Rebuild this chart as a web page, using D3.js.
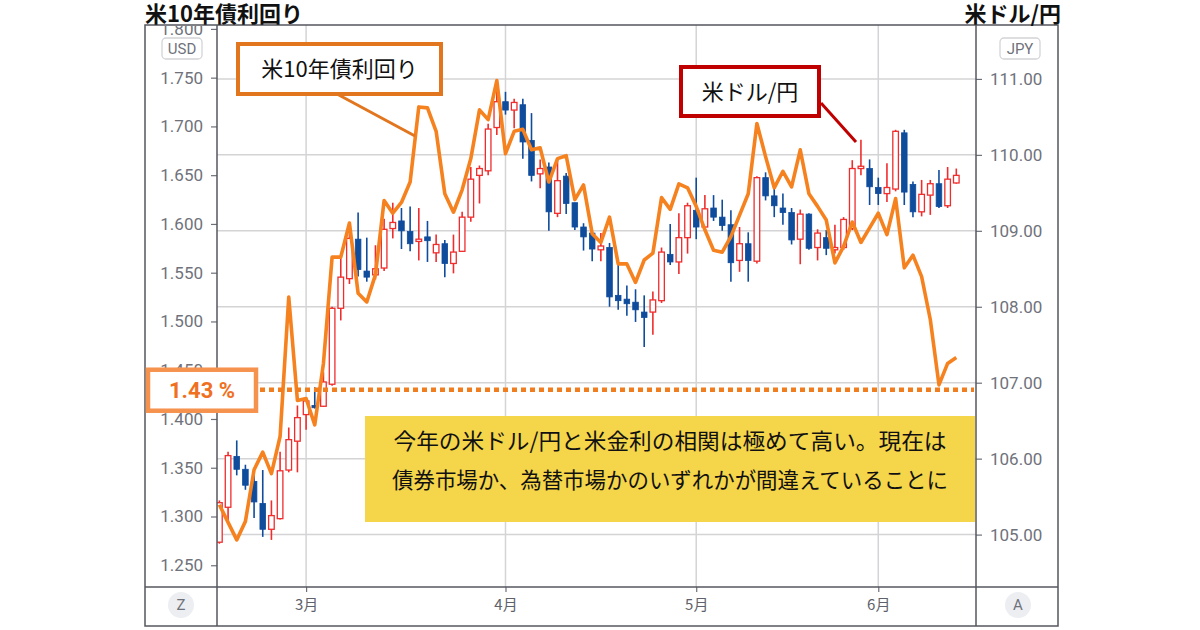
<!DOCTYPE html>
<html>
<head>
<meta charset="utf-8">
<script src="https://cdn.jsdelivr.net/npm/d3@7"></script>
<style>
body{margin:0;background:#fff;}
svg{display:block;}
</style>
</head>
<body>
<svg id="chart" width="1200" height="630"></svg>
<script>
// trading days (2021), one candle each
const dates = [
    "02-15","02-16","02-17","02-18","02-19","02-22","02-23","02-24","02-25","02-26",
    "03-01","03-02","03-03","03-04","03-05","03-08","03-09","03-10","03-11","03-12","03-15","03-16",
    "03-17","03-18","03-19","03-22","03-23","03-24","03-25","03-26","03-29","03-30","03-31",
    "04-01","04-02","04-05","04-06","04-07","04-08","04-09","04-12","04-13","04-14","04-15",
    "04-16","04-19","04-20","04-21","04-22","04-23","04-26","04-27","04-28","04-29","04-30",
    "05-03","05-04","05-05","05-06","05-07","05-10","05-11","05-12","05-13","05-14","05-17",
    "05-18","05-19","05-20","05-21","05-24","05-25","05-26","05-27","05-28","05-31",
    "06-01","06-02","06-03","06-04","06-07","06-08","06-09","06-10","06-11","06-14"
];
// USD/JPY daily candles
const opens = [104.90,105.36,106.03,105.86,105.70,105.41,105.07,105.21,105.85,106.23,
    106.58,106.70,106.69,106.98,107.98,108.37,108.89,108.47,108.42,108.51,109.03,109.13,108.99,108.86,108.92,108.71,108.83,108.57,108.73,109.18,109.73,109.79,110.36,
    110.70,110.59,110.66,110.19,109.75,109.84,109.23,109.72,109.37,109.05,108.97,108.75,108.78,108.15,108.10,108.06,107.93,107.93,108.08,108.69,108.59,108.91,
    109.27,109.05,109.30,109.18,109.08,108.61,108.83,108.60,109.70,109.46,109.30,109.24,108.89,109.22,108.78,108.91,108.75,108.78,109.03,109.82,109.82,
    109.57,109.49,109.55,110.29,109.61,109.25,109.47,109.62,109.33,109.63];
const highs = [105.45,106.09,106.24,105.92,105.78,105.85,105.45,106.09,106.41,106.70,
    106.81,106.94,107.14,108.00,108.66,108.97,109.24,108.91,108.81,109.16,109.37,109.30,109.32,109.30,109.13,108.95,108.88,108.95,109.25,109.84,109.86,110.41,110.97,
    110.83,110.74,110.74,110.55,109.94,109.90,109.95,109.76,109.37,109.10,108.99,108.97,108.84,108.55,108.28,108.23,108.15,108.20,108.78,109.09,109.23,109.37,
    109.70,109.47,109.47,109.41,109.27,109.05,108.98,109.72,109.77,109.58,109.49,109.30,109.28,109.23,109.02,109.01,109.08,109.18,109.93,110.20,109.94,
    109.70,109.89,110.33,110.33,109.65,109.67,109.67,109.80,109.84,109.82];
const lows = [104.88,105.17,105.78,105.59,105.22,104.97,104.93,105.20,105.82,105.82,
    106.38,106.66,106.68,106.96,107.82,108.30,108.40,108.33,108.36,108.47,108.90,108.76,108.73,108.61,108.59,108.59,108.39,108.44,108.72,109.12,109.36,109.73,110.26,
    110.53,110.35,109.95,109.65,109.56,109.00,109.18,109.22,109.01,108.74,108.60,108.60,108.00,107.96,107.88,107.80,107.47,107.63,108.05,108.55,108.43,108.70,
    108.89,109.00,109.13,109.00,108.33,108.46,108.33,108.57,109.40,109.18,109.08,108.82,108.56,108.75,108.61,108.68,108.70,108.75,109.01,109.73,109.34,
    109.34,109.38,109.52,109.34,109.18,109.19,109.21,109.30,109.30,109.62];
const closes = [105.42,106.04,105.86,105.65,105.43,105.07,105.25,105.84,106.25,106.54,
    106.76,106.67,107.01,107.98,108.39,108.90,108.49,108.39,108.50,109.02,109.11,109.00,108.83,108.89,108.87,108.82,108.57,108.72,109.18,109.68,109.82,110.34,110.70,
    110.59,110.69,110.17,109.73,109.82,109.25,109.66,109.36,109.05,108.92,108.76,108.80,108.13,108.08,108.04,107.96,107.86,108.09,108.72,108.59,108.91,109.33,
    109.05,109.29,109.18,109.07,108.58,108.83,108.61,109.70,109.46,109.33,109.24,108.88,109.22,108.77,108.97,108.77,108.78,109.15,109.82,109.85,109.58,
    109.49,109.57,110.31,109.51,109.25,109.48,109.62,109.32,109.68,109.73];
// US 10y yield (%)
const yields = [1.312,1.294,1.276,1.295,1.348,1.366,1.344,1.382,1.525,1.419,
    1.421,1.394,1.457,1.566,1.566,1.601,1.529,1.520,1.548,1.624,1.611,1.622,1.643,1.720,1.719,1.695,1.631,1.612,1.635,1.667,1.717,1.707,1.747,
    1.672,1.695,1.697,1.676,1.678,1.643,1.667,1.670,1.625,1.640,1.590,1.581,1.607,1.559,1.559,1.540,1.563,1.570,1.627,1.615,1.641,1.637,
    1.618,1.594,1.573,1.571,1.587,1.609,1.631,1.703,1.669,1.637,1.654,1.638,1.676,1.631,1.618,1.604,1.560,1.577,1.602,1.581,1.596,
    1.611,1.589,1.626,1.555,1.568,1.546,1.502,1.435,1.457,1.463];
//
const yieldTicks = [1.25,1.30,1.35,1.40,1.45,1.50,1.55,1.60,1.65,1.70,1.75,1.80];
const yenTicks = [105,106,107,108,109,110,111];
const monthDates = ["03-01","04-01","05-03","06-01"];
const monthLabels = ["3月","4月","5月","6月"];
const markYield = 1.43;
//
const frame = {l: 145, t: 25, r: 1058, b: 626};
const plot = {l: 217, t: 25, r: 976, b: 587};
const jp = "'Noto Sans CJK JP', 'Noto Sans', sans-serif";
const axisFont = "Roboto, 'Liberation Sans', sans-serif";
const gray = "#6f727b";
const upCol = "#f02c2c", downCol = "#0f4c9c", lineCol = "#f5821f";
//
const svg = d3.select("#chart");
//
const x = d3.scaleLinear().domain([0, dates.length - 1]).range([219.4, 956.3]);//index -> px
const yL = d3.scaleLinear().domain([1.2277, 1.804]).range([plot.b, plot.t]);//yield
const yR = d3.scaleLinear().domain([104.31, 111.71]).range([plot.b, plot.t]);//USD/JPY
const idx = d => dates.indexOf(d);
//
const defs = svg.append("defs");
defs.append("clipPath").attr("id", "plotClip")
    .append("rect").attr("x", plot.l).attr("y", plot.t).attr("width", plot.r - plot.l).attr("height", plot.b - plot.t);
defs.append("clipPath").attr("id", "leftClip")
    .append("rect").attr("x", frame.l).attr("y", frame.t + 1).attr("width", plot.l - frame.l).attr("height", plot.b - frame.t);
//
// grid
const grid = svg.append("g").attr("stroke", "#d4d4d6").attr("stroke-width", 1.5);
grid.selectAll(".gh").data(yenTicks).join("line")
    .attr("x1", plot.l).attr("x2", plot.r).attr("y1", d => yR(d)).attr("y2", d => yR(d));
grid.selectAll(".gv").data(monthDates).join("line")
    .attr("x1", d => x(idx(d))).attr("x2", d => x(idx(d))).attr("y1", plot.t).attr("y2", plot.b);
//
// axes
const leftAxis = svg.append("g").attr("clip-path", "url(#leftClip)")//clip in page coords, axis moved inside
    .append("g").attr("transform", `translate(${plot.l},0)`)
    .call(d3.axisLeft(yL).tickValues(yieldTicks).tickFormat(d3.format(".3f")).tickSize(6).tickPadding(8));
const rightAxis = svg.append("g").attr("transform", `translate(${plot.r},0)`)
    .call(d3.axisRight(yR).tickValues(yenTicks).tickFormat(d3.format(".2f")).tickSize(6).tickPadding(8));
const bottomAxis = svg.append("g").attr("transform", `translate(0,${plot.b})`)
    .call(d3.axisBottom(x).tickValues(monthDates.map(idx)).tickFormat((d, i) => monthLabels[i]).tickSize(5).tickPadding(7));
[leftAxis, rightAxis, bottomAxis].forEach(a => {
    a.select(".domain").remove();
    a.selectAll(".tick line").attr("stroke", "#6d7079").attr("stroke-width", 1.2);
    a.selectAll(".tick text").attr("fill", gray).style("font-family", axisFont).style("font-size", "17px");
});
bottomAxis.selectAll(".tick text").style("font-family", jp).style("font-size", "15px").attr("fill", "#5f626a");
//
// candles
const candles = svg.append("g").attr("clip-path", "url(#plotClip)");
const bw = 5.6;
dates.forEach((d, i) => {
    const up = closes[i] >= opens[i];
    const col = up ? upCol : downCol;
    const cx = x(i);
    candles.append("line")
        .attr("x1", cx).attr("x2", cx).attr("y1", yR(highs[i])).attr("y2", yR(lows[i]))
        .attr("stroke", col).attr("stroke-width", 1.6);
    const top = yR(Math.max(opens[i], closes[i]));
    const h = Math.max(1.5, yR(Math.min(opens[i], closes[i])) - top);
    candles.append("rect")
        .attr("x", cx - bw / 2).attr("y", top).attr("width", bw).attr("height", h)
        .attr("fill", up ? "#fff" : col).attr("stroke", col).attr("stroke-width", up ? 1.3 : 0.8);
});
//
// yield line
candles.append("path").datum(yields)
    .attr("fill", "none").attr("stroke", lineCol).attr("stroke-width", 3.6).attr("stroke-linejoin", "round")
    .attr("d", d3.line().x((d, i) => x(i)).y(d => yL(d)));
//
// frame
const fr = svg.append("g").attr("stroke", "#55575e").attr("stroke-width", 1.5).attr("fill", "none");
fr.append("rect").attr("x", frame.l).attr("y", frame.t).attr("width", frame.r - frame.l).attr("height", frame.b - frame.t);
fr.append("line").attr("x1", plot.l).attr("x2", plot.l).attr("y1", frame.t).attr("y2", frame.b);
fr.append("line").attr("x1", plot.r).attr("x2", plot.r).attr("y1", frame.t).attr("y2", frame.b);
fr.append("line").attr("x1", frame.l).attr("x2", frame.r).attr("y1", plot.b).attr("y2", plot.b);
//
// currency badges and corner buttons
function badge(cx, cy, txt){
    svg.append("rect").attr("x", cx - 20).attr("y", cy - 10).attr("width", 40).attr("height", 21).attr("rx", 4)
        .attr("fill", "#fff").attr("stroke", "#d3d4d8").attr("stroke-width", 1.3);
    svg.append("text").attr("x", cx).attr("y", cy + 6).attr("text-anchor", "middle")
        .style("font-family", axisFont).style("font-size", "15px").attr("fill", gray).text(txt);
}
badge(182, 48, "USD");
badge(1020, 48, "JPY");
function roundBtn(cx, cy, txt){
    svg.append("circle").attr("cx", cx).attr("cy", cy).attr("r", 13).attr("fill", "#eceef2");
    svg.append("text").attr("x", cx).attr("y", cy + 5).attr("text-anchor", "middle")
        .style("font-family", axisFont).style("font-size", "15px").attr("fill", gray).text(txt);
}
roundBtn(181, 605, "Z");
roundBtn(1018, 605, "A");
//
// titles
svg.append("text").attr("x", frame.l).attr("y", 22).style("font-family", jp).style("font-weight", "bold")
    .style("font-size", "22px").attr("fill", "#111").text("米10年債利回り");
svg.append("text").attr("x", 1061).attr("y", 22).attr("text-anchor", "end").style("font-family", jp).style("font-weight", "bold")
    .style("font-size", "22px").attr("fill", "#111").text("米ドル/円");
//
// 1.43% mark
svg.append("line").attr("x1", 260).attr("x2", plot.r - 2).attr("y1", yL(markYield)).attr("y2", yL(markYield))
    .attr("stroke", "#f07d1e").attr("stroke-width", 4.5).attr("stroke-dasharray", "5,4");
svg.append("rect").attr("x", 148).attr("y", yL(markYield) - 20).attr("width", 108).attr("height", 41)
    .attr("fill", "#fff").attr("stroke", "#f5924d").attr("stroke-width", 4.5);
svg.append("text").attr("x", 202).attr("y", yL(markYield) + 8).attr("text-anchor", "middle")
    .style("font-family", axisFont).style("font-weight", "bold").style("font-size", "22px").attr("fill", "#f07021")
    .text(d3.format(".2f")(markYield) + " %");
//
// callouts
function callout(x0, y0, w, h, col, txt, lx1, ly1, lx2, ly2){
    svg.append("line").attr("x1", lx1).attr("y1", ly1).attr("x2", lx2).attr("y2", ly2)
        .attr("stroke", col).attr("stroke-width", 3);
    svg.append("rect").attr("x", x0).attr("y", y0).attr("width", w).attr("height", h)
        .attr("fill", "#fff").attr("stroke", col).attr("stroke-width", 4);
    svg.append("text").attr("x", x0 + w / 2).attr("y", y0 + h / 2 + 8).attr("text-anchor", "middle")
        .style("font-family", jp).style("font-size", "22px").attr("fill", "#111").text(txt);
}
callout(238, 44, 203, 50, "#e2761f", "米10年債利回り", 337, 94, 415, 136);
callout(681, 67, 138, 49, "#c00000", "米ドル/円", 821, 103, 856, 142);
//
// comment box
svg.append("rect").attr("x", 365).attr("y", 416).attr("width", 610).attr("height", 106).attr("fill", "#f5d54a");
const note = ["今年の米ドル/円と米金利の相関は極めて高い。現在は", "債券市場か、為替市場かのいずれかが間違えていることに"];
svg.selectAll(".note").data(note).join("text")
    .attr("x", 670).attr("y", (d, i) => 449 + i * 39).attr("text-anchor", "middle")
    .style("font-family", jp).style("font-size", "22px").attr("fill", "#111")
    .attr("textLength", (d, i) => i ? 556 : 553).attr("lengthAdjust", "spacingAndGlyphs")
    .text(d => d);
</script>
</body>
</html>
